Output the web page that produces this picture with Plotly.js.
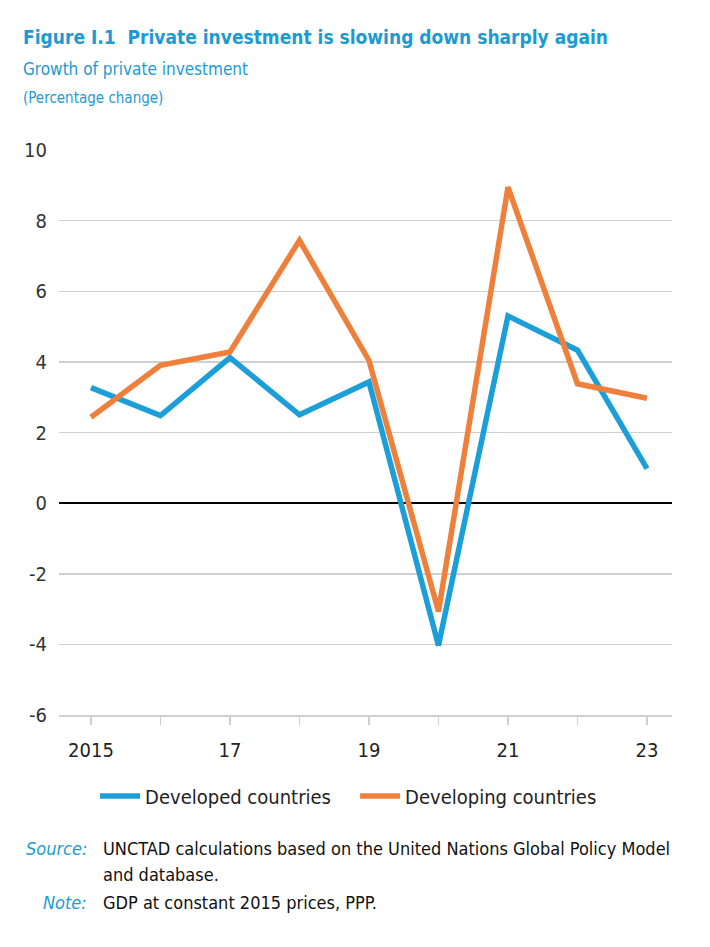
<!DOCTYPE html>
<html>
<head>
<meta charset="utf-8">
<script src="https://cdn.plot.ly/plotly-3.0.1.min.js"></script>
<style>
html,body{margin:0;padding:0;background:#fff;}
#chart{width:710px;height:947px;}
</style>
</head>
<body>
<div id="chart"></div>
<script>
var years = [2015, 2016, 2017, 2018, 2019, 2020, 2021, 2022, 2023];
var tickLabels = ["2015", "", "17", "", "19", "", "21", "", "23"];
var yTicks = [-6, -4, -2, 0, 2, 4, 6, 8, 10];
var yTickLabels = ["-6", "-4", "-2", "0", "2", "4", "6", "8", "10"];
var developed = [3.27, 2.48, 4.12, 2.5, 3.43, -4.03, 5.3, 4.33, 0.98];
var developing = [2.43, 3.9, 4.28, 7.44, 4.04, -3.07, 8.95, 3.38, 2.97];
var seriesNames = ["Developed countries", "Developing countries"];

var FONT = "'DejaVu Sans Condensed', 'Liberation Sans Narrow', Roboto, sans-serif";
var BLUE = "#1c9fd8";
var ORANGE = "#ee803c";
var TEXTBLUE = "#1b9ad4";

var L = 59, R = 672, T = 150, B = 715;
function px(x){ return (x - L) / (R - L); }
function py(y){ return (B - y) / (B - T); }

var traces = [
  {x: years, y: developed, name: seriesNames[0], type: "scatter", mode: "lines",
   line: {color: BLUE, width: 5.5}},
  {x: years, y: developing, name: seriesNames[1], type: "scatter", mode: "lines",
   line: {color: ORANGE, width: 5.5}}
];

var annotations = [
  {text: "<b>Figure I.1  Private investment is slowing down sharply again</b>", x: px(21), y: py(37),
   font: {size: 19, color: TEXTBLUE, family: FONT}},
  {text: "Growth of private investment", x: px(21), y: py(69),
   font: {size: 17, color: TEXTBLUE, family: FONT}},
  {text: "(Percentage change)", x: px(21), y: py(98),
   font: {size: 15, color: TEXTBLUE, family: FONT}},
  {text: "<i>Source:</i>", x: px(89), y: py(848), xanchor: "right",
   font: {size: 18, color: TEXTBLUE, family: FONT}},
  {text: "UNCTAD calculations based on the United Nations Global Policy Model", x: px(101), y: py(848),
   font: {size: 18, color: "#111", family: FONT}},
  {text: "and database.", x: px(101), y: py(874),
   font: {size: 18, color: "#111", family: FONT}},
  {text: "<i>Note:</i>", x: px(89), y: py(902), xanchor: "right",
   font: {size: 18, color: TEXTBLUE, family: FONT}},
  {text: "GDP at constant 2015 prices, PPP.", x: px(101), y: py(902),
   font: {size: 18, color: "#111", family: FONT}}
].map(function(a){
  return Object.assign({xref: "paper", yref: "paper", xanchor: "left", yanchor: "middle",
                        showarrow: false}, a);
});

var layout = {
  width: 710, height: 947,
  margin: {l: L, r: 710 - R, t: T, b: 947 - B, pad: 0},
  paper_bgcolor: "#fff", plot_bgcolor: "#fff",
  showlegend: true,
  legend: {orientation: "h", x: 0.483, xanchor: "center", y: py(796), yanchor: "middle",
           font: {size: 20, color: "#222", family: FONT}, itemwidth: 40,
           entrywidth: 205, entrywidthmode: "pixels",
           traceorder: "normal"},
  xaxis: {range: [2014.54, 2023.36], tickvals: years, ticktext: tickLabels,
          showgrid: false, zeroline: false, showline: true, linecolor: "#cfcfcf", linewidth: 1.5,
          ticks: "outside", ticklen: 8, tickcolor: "#cfcfcf", tickwidth: 1.5,
          ticklabelstandoff: 8,
          tickfont: {size: 20, color: "#222", family: FONT}, fixedrange: true},
  yaxis: {range: [-6, 10], tickvals: yTicks, ticktext: yTickLabels,
          showgrid: true, gridcolor: "#d0d0d0", gridwidth: 1.5,
          zeroline: true, zerolinecolor: "#000", zerolinewidth: 2,
          showline: false, ticks: "", ticklabelstandoff: 11,
          tickfont: {size: 20, color: "#333", family: FONT}, fixedrange: true},
  annotations: annotations
};

Plotly.newPlot("chart", traces, layout, {displayModeBar: false, staticPlot: true});
</script>
</body>
</html>
